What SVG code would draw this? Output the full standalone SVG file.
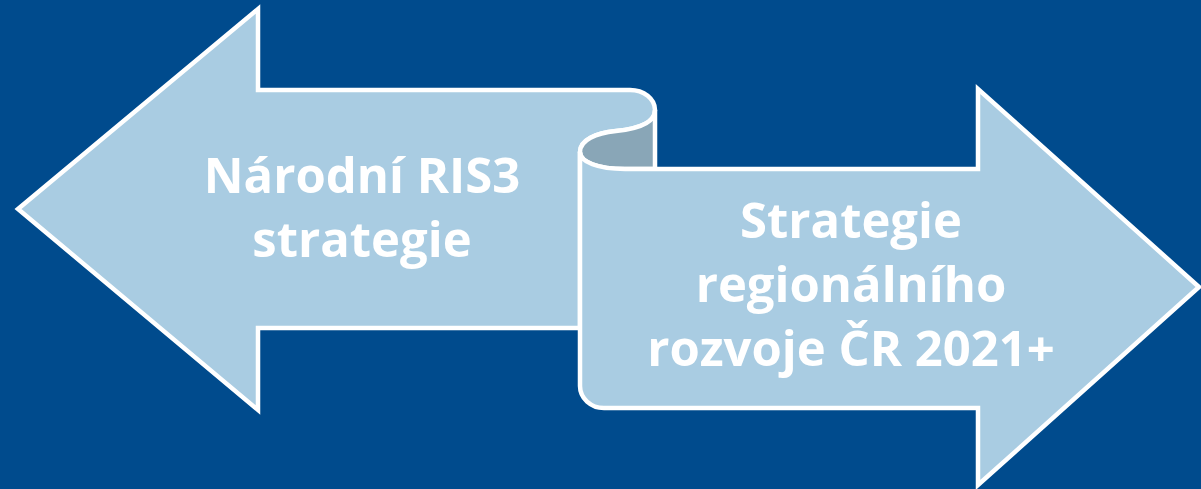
<svg xmlns="http://www.w3.org/2000/svg" width="1201" height="489" viewBox="0 0 1201 489">
  <style>
    .shape { fill: #A9CCE2; stroke: #FFFFFF; stroke-width: 4.5; stroke-linejoin: miter; }
    .curl { fill: #89A6B7; stroke: #FFFFFF; stroke-width: 4.5; }
    .label { font-family: "Open Sans", "DejaVu Sans", sans-serif; font-weight: bold; font-size: 49px; fill: #FFFFFF; text-anchor: middle; }
  </style>
  <rect x="0" y="0" width="1201" height="489" fill="#004B8D"/>
  <g id="node-narodni">
    <path class="shape" d="M18,209 L258,9 L258,90 L630,90 A25,20 0 0 1 655,110 C655,124 636,129 616,131 C596,133 580,140 580,152 L580,328 L258,328 L258,410 Z"/>
    <text class="label" x="362" y="193">Národní RIS3</text>
    <text class="label" x="362" y="257">strategie</text>
  </g>
  <g id="connectors">
    <path class="curl" d="M655,110 C655,124 636,129 616,131 C596,133 580,140 580,152 C580,162 598,169 625,169 L655,169 Z"/>
  </g>
  <g id="node-regionalni">
    <path class="shape" d="M580,152 C580,162 598,169 625,169 L978,169 L978,89 L1199,287 L978,485 L978,408 L604,408 A24,22 0 0 1 580,386 Z"/>
    <text class="label" x="851" y="238">Strategie</text>
    <text class="label" x="851" y="302">regionálního</text>
    <text class="label" x="851" y="366">rozvoje ČR 2021+</text>
  </g>
</svg>
